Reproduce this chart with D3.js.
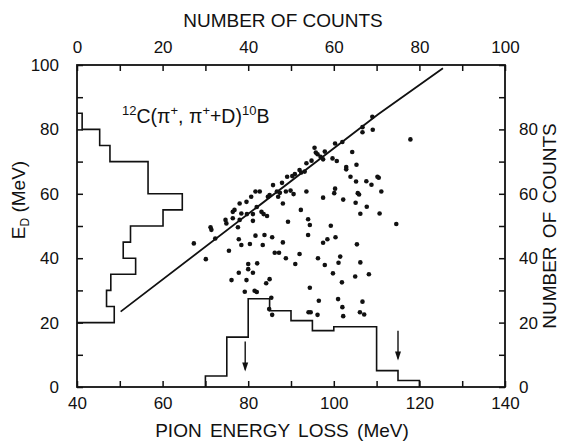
<!DOCTYPE html>
<html>
<head>
<meta charset="utf-8">
<script src="https://cdn.jsdelivr.net/npm/d3@7"></script>
<style>
body { margin: 0; background: #fff; }
text { font-family: "Liberation Sans", Arial, sans-serif; fill: #111; }
</style>
</head>
<body>
<div id="chart"></div>
<script>
// scatter: pion energy loss (MeV) vs E_D (MeV)
var scatterX = [109.0, 106.7, 106.7, 109.1, 117.9, 100.3, 102.0, 104.3, 99.7, 100.7,
  102.9, 102.9, 105.3, 103.9, 105.2, 107.6, 108.8, 110.2, 110.5, 100.3,
  100.1, 105.6, 105.9, 111.1, 102.2, 105.1, 107.7, 106.2, 110.7, 114.6,
  99.3, 100.4, 105.4, 101.5, 101.1, 106.2, 99.8, 105.0, 108.2, 101.9,
  101.0, 102.0, 106.7, 102.2, 106.1, 107.1, 67.3, 70.1, 71.2, 71.4,
  72.3, 74.7, 74.9, 76.4, 76.4, 78.0, 77.6, 78.4, 79.7, 81.1,
  81.1, 83.1, 83.6, 84.4, 77.8, 78.4, 75.5, 80.4, 81.7, 83.4,
  83.8, 85.6, 88.1, 86.2, 87.2, 88.8, 89.3, 92.0, 91.0, 94.0,
  94.4, 94.0, 92.3, 98.5, 97.5, 96.3, 97.9, 80.0, 82.1, 80.0,
  81.1, 77.8, 76.1, 79.6, 85.0, 84.2, 79.2, 81.5, 82.0, 85.4,
  84.9, 85.6, 94.4, 96.5, 94.1, 94.6, 96.2, 95.5, 95.8, 96.2,
  96.9, 97.9, 97.5, 93.6, 94.8, 92.0, 92.4, 93.2, 90.3, 90.9,
  89.1, 87.9, 85.8, 86.7, 87.4, 88.8, 89.9, 90.6, 87.0, 84.6,
  85.0, 82.7, 81.7, 93.6, 97.5, 82.0, 78.0, 76.8, 79.6, 88.1, 80.7];
var scatterY = [83.9, 80.7, 79.1, 79.9, 76.9, 75.6, 76.1, 73.0, 71.0, 70.2,
  68.3, 67.6, 69.0, 65.3, 63.8, 63.9, 62.8, 65.3, 65.0, 61.6,
  60.2, 60.2, 59.8, 60.7, 58.2, 57.2, 56.0, 53.8, 53.9, 50.6,
  50.1, 46.5, 44.3, 40.5, 38.6, 38.7, 35.3, 34.3, 35.0, 32.5,
  27.3, 24.8, 26.5, 22.0, 23.2, 22.5, 44.6, 39.7, 49.6, 48.8,
  46.1, 51.9, 50.8, 54.4, 52.4, 51.9, 49.6, 53.9, 53.7, 53.7,
  51.6, 54.4, 53.7, 53.1, 45.9, 44.1, 42.3, 44.4, 47.0, 44.1,
  47.2, 46.5, 44.9, 41.7, 41.7, 40.0, 51.3, 41.3, 38.2, 52.1,
  50.3, 47.2, 55.0, 45.9, 44.8, 40.0, 37.9, 38.2, 38.4, 36.6,
  35.5, 35.5, 33.2, 33.2, 33.5, 32.2, 29.6, 29.9, 29.5, 27.7,
  24.2, 22.4, 30.8, 26.8, 23.2, 23.2, 22.4, 74.3, 72.8, 72.3,
  71.5, 73.1, 70.7, 69.5, 70.3, 67.4, 66.6, 66.9, 65.5, 66.1,
  65.3, 63.4, 62.7, 60.7, 60.3, 60.7, 61.0, 59.9, 59.1, 59.1,
  59.6, 60.7, 60.7, 60.7, 58.8, 55.9, 57.0, 55.0, 57.5, 57.0, 59.1];

// kinematic line
var lineX = [50.2, 110.3, 125.5];
var lineY = [23.4, 84.6, 99.0];

// E_D projection (counts on top axis), bin edges from top down
var edEdges = [85, 80, 75, 70, 60, 55, 50, 45, 40, 35, 30, 25, 20];
var edCounts = [1.2, 5.3, 7.7, 16.6, 24.6, 20.1, 12.5, 10.8, 13.7, 7.9, 6.9, 8.7];

// pion energy loss projection (counts on right axis)
var pionEdges = [70, 75, 80, 85, 90, 95, 100, 110, 115, 120];
var pionCounts = [3.4, 15.5, 27.4, 23.7, 20.6, 17.5, 18.7, 5.1, 2.0];

// arrows (pion energy loss, counts from / to)
var arrowX = [79.3, 115.0];
var arrowFrom = [14.1, 17.5];
var arrowTo = [4.8, 8.2];

var xTicks = [40, 50, 60, 70, 80, 90, 100, 110, 120, 130, 140];
var yTicks = [0, 10, 20, 30, 40, 50, 60, 70, 80, 90, 100];

var svgWidth = 561;
var svgHeight = 441;
var margin = {top: 65, right: 56, bottom: 54, left: 77};
var chartWidth = svgWidth - margin.left - margin.right;
var chartHeight = svgHeight - margin.top - margin.bottom;

var svg = d3.select("#chart").append("svg")
  .attr("width", svgWidth)
  .attr("height", svgHeight);

var chartGroup = svg.append("g")
  .attr("transform", `translate(${margin.left}, ${margin.top})`);

var xScale = d3.scaleLinear().domain([40, 140]).range([0, chartWidth]);
var yScale = d3.scaleLinear().domain([0, 100]).range([chartHeight, 0]);
var topScale = d3.scaleLinear().domain([0, 100]).range([0, chartWidth]);
var rightScale = d3.scaleLinear().domain([0, 100]).range([chartHeight, 0]);

var fs = "17px";

var bottomAxis = d3.axisBottom(xScale).tickValues(xTicks).tickSize(-6).tickPadding(10)
  .tickFormat(d => d % 20 == 0 ? d : "");
var leftAxis = d3.axisLeft(yScale).tickValues(yTicks).tickSize(-6).tickPadding(18)
  .tickFormat(d => d % 20 == 0 ? d : "");
var topAxis = d3.axisTop(topScale).tickValues(yTicks).tickSize(-6).tickPadding(12)
  .tickFormat(d => d % 20 == 0 ? d : "");
var rightAxis = d3.axisRight(rightScale).tickValues(yTicks).tickSize(-6).tickPadding(14)
  .tickFormat(d => (d % 20 == 0 && d < 100) ? d : "");

function styleAxis(g) {
  g.select(".domain").remove();
  g.selectAll("line").attr("stroke", "#111").attr("stroke-width", 1.5);
  g.selectAll("text").attr("font-size", fs).attr("fill", "#111")
    .style("font-family", '"Liberation Sans", Arial, sans-serif');
}

chartGroup.append("g").attr("transform", `translate(0, ${chartHeight})`).call(bottomAxis).call(styleAxis);
chartGroup.append("g").call(leftAxis).call(styleAxis);
chartGroup.append("g").call(topAxis).call(styleAxis);
chartGroup.append("g").attr("transform", `translate(${chartWidth}, 0)`).call(rightAxis).call(styleAxis);

// frame
chartGroup.append("rect")
  .attr("width", chartWidth)
  .attr("height", chartHeight)
  .attr("fill", "none")
  .attr("stroke", "#111")
  .attr("stroke-width", 1.8);

// E_D histogram (steps drawn from the left axis)
var edPath = d3.path();
edPath.moveTo(topScale(0), yScale(edEdges[0]));
edCounts.forEach((c, i) => {
  edPath.lineTo(topScale(c), yScale(edEdges[i]));
  edPath.lineTo(topScale(c), yScale(edEdges[i + 1]));
});
edPath.lineTo(topScale(0), yScale(edEdges[edEdges.length - 1]));
chartGroup.append("path")
  .attr("d", edPath.toString())
  .attr("fill", "none")
  .attr("stroke", "#111")
  .attr("stroke-width", 1.6);

// pion histogram (steps drawn from the bottom axis)
var pionPath = d3.path();
pionPath.moveTo(xScale(pionEdges[0]), rightScale(0));
pionCounts.forEach((c, i) => {
  pionPath.lineTo(xScale(pionEdges[i]), rightScale(c));
  pionPath.lineTo(xScale(pionEdges[i + 1]), rightScale(c));
});
pionPath.lineTo(xScale(pionEdges[pionEdges.length - 1]), rightScale(0));
chartGroup.append("path")
  .attr("d", pionPath.toString())
  .attr("fill", "none")
  .attr("stroke", "#111")
  .attr("stroke-width", 1.6);

// arrows
arrowX.forEach((a, i) => {
  var ax = xScale(a);
  var tip = rightScale(arrowTo[i]);
  chartGroup.append("line")
    .attr("x1", ax).attr("x2", ax)
    .attr("y1", rightScale(arrowFrom[i])).attr("y2", tip - 2)
    .attr("stroke", "#111").attr("stroke-width", 1.4);
  chartGroup.append("path")
    .attr("d", `M${ax - 3},${tip - 9} L${ax},${tip} L${ax + 3},${tip - 9} Z`)
    .attr("fill", "#111");
});

// kinematic line
var lineGen = d3.line().x(d => xScale(d[0])).y(d => yScale(d[1]));
chartGroup.append("path")
  .attr("d", lineGen(d3.zip(lineX, lineY)))
  .attr("fill", "none")
  .attr("stroke", "#111")
  .attr("stroke-width", 1.8);

// points
chartGroup.selectAll("circle")
  .data(d3.zip(scatterX, scatterY))
  .enter()
  .append("circle")
  .attr("cx", d => xScale(d[0]))
  .attr("cy", d => yScale(d[1]))
  .attr("r", 2.3)
  .attr("fill", "#111");

// reaction label
var label = chartGroup.append("text")
  .attr("x", 45)
  .attr("y", 58)
  .attr("font-size", "19.5px");
label.append("tspan").attr("font-size", "13px").attr("dy", -8).text("12");
label.append("tspan").attr("dy", 8).text("C(\u03c0");
label.append("tspan").attr("font-size", "13px").attr("dy", -8).text("+");
label.append("tspan").attr("dy", 8).text(", \u03c0");
label.append("tspan").attr("font-size", "13px").attr("dy", -8).text("+");
label.append("tspan").attr("dy", 8).text("+D)");
label.append("tspan").attr("font-size", "13px").attr("dy", -8).text("10");
label.append("tspan").attr("dy", 8).text("B");

// axis titles
svg.append("text")
  .attr("x", 283)
  .attr("y", 27)
  .attr("text-anchor", "middle")
  .attr("font-size", "19px")
  .text("NUMBER OF COUNTS");

svg.append("text")
  .attr("x", 282)
  .attr("y", 437)
  .attr("text-anchor", "middle")
  .attr("font-size", "19px")
  .attr("word-spacing", "3px")
  .text("PION ENERGY LOSS (MeV)");

svg.append("text")
  .attr("transform", "rotate(-90)")
  .attr("x", -226)
  .attr("y", 556)
  .attr("text-anchor", "middle")
  .attr("font-size", "19px")
  .attr("word-spacing", "3px")
  .text("NUMBER OF COUNTS");

var ed = svg.append("text")
  .attr("transform", "rotate(-90)")
  .attr("x", -200)
  .attr("y", 25)
  .attr("text-anchor", "middle")
  .attr("font-size", "19px");
ed.append("tspan").text("E");
ed.append("tspan").attr("font-size", "12px").attr("dy", 4).text("D");
ed.append("tspan").attr("dy", -4).text(" (MeV)");
</script>
</body>
</html>
